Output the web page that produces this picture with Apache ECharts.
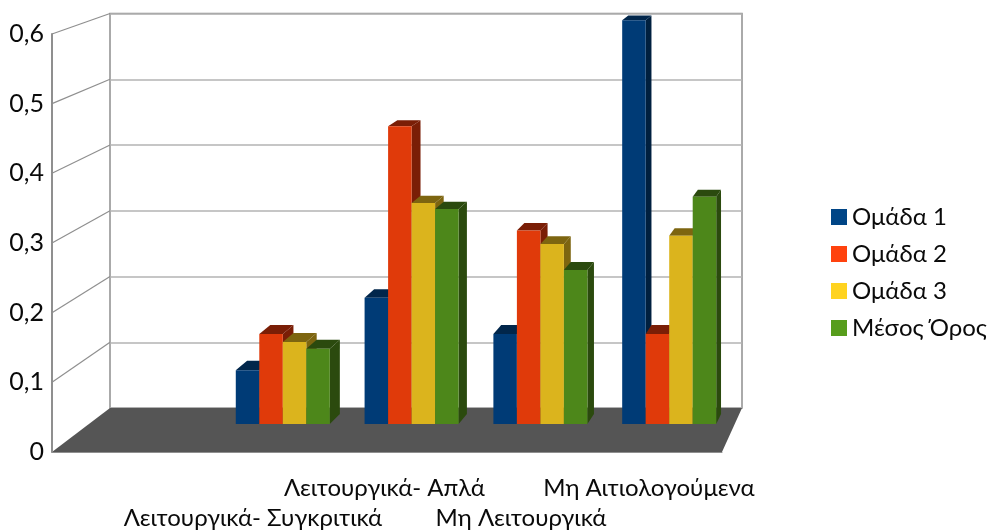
<!DOCTYPE html>
<html>
<head>
<meta charset="utf-8">
<style>
    html, body { margin: 0; padding: 0; background: #fff; }
    #main { width: 992px; height: 530px; }
</style>
<script src="https://cdn.jsdelivr.net/npm/echarts@6/dist/echarts.min.js"></script>
</head>
<body>
<div id="main"></div>
<script>
// first category is empty in the original chart
const categories = ['', 'Λειτουργικά- Συγκριτικά', 'Λειτουργικά- Απλά', 'Μη Λειτουργικά', 'Μη Αιτιολογούμενα']
const seriesNames = ['Ομάδα 1', 'Ομάδα 2', 'Ομάδα 3', 'Μέσος Όρος']
const group1 = [null, 0.08, 0.188, 0.134, 0.601]
const group2 = [null, 0.134, 0.443, 0.288, 0.134]
const group3 = [null, 0.122, 0.329, 0.268, 0.28]
const average = [null, 0.112, 0.32, 0.229, 0.338]
const tickValues = [0, 0.1, 0.2, 0.3, 0.4, 0.5, 0.6]
const tickLabels = ['0', '0,1', '0,2', '0,3', '0,4', '0,5', '0,6']

const legendColors = ['#004586', '#ff420e', '#ffd320', '#579d1c']
const frontColors = ['#003b76', '#e03a0a', '#dbb41d', '#4d871a']
const topColors = ['#01264b', '#7a1e06', '#7d6510', '#2b4a0e']
const sideColors = ['#00203f', '#7a1e06', '#7d6510', '#2b4a0e']
const fontFamily = 'Lato, "Open Sans", "Noto Sans", sans-serif'
const textColor = '#0a0a0a'
const wallColor = '#8f8f8f'

// the three planes of the fake 3D box
const front = { left: 52, right: 722, top: 34, bottom: 452 }
const back = { left: 110, right: 742, top: 13.5, bottom: 408 }
const bars = { left: 89.6, right: 733.6, top: 20.8, bottom: 424 }
const vanish = [1073, -325] // all depth lines meet here
const depth = 0.0135

function toBack(p) {
    return [p[0] + depth * (vanish[0] - p[0]), p[1] + depth * (vanish[1] - p[1])]
}

function frontY(v) {
    return front.bottom - (v / 0.6) * (front.bottom - front.top)
}

function gridOf(r) {
    // outerBoundsMode none: v6 would otherwise shrink the grid to fit the labels
    return { left: r.left, top: r.top, width: r.right - r.left, height: r.bottom - r.top, outerBoundsMode: 'none' }
}

function barSeries(index, values) {
    return {
        name: seriesNames[index],
        type: 'custom',
        coordinateSystem: 'cartesian2d',
        xAxisIndex: 2,
        yAxisIndex: 2,
        z: 3 + index,
        clip: false,
        itemStyle: { color: legendColors[index] },
        data: values.map((v, i) => [i, v]),
        renderItem: function (params, api) {
            if (api.value(1) == null || isNaN(api.value(1))) return
            let top = api.coord([api.value(0), api.value(1)])
            let base = api.coord([api.value(0), 0])
            let w = api.size([1, 0])[0] * 0.1825
            let x0 = top[0] + (index - 2) * w
            let x1 = x0 + w
            let tl = [x0, top[1]]; let tr = [x1, top[1]]; let br = [x1, base[1]]
            return {
                type: 'group',
                children: [
                    { type: 'polygon', shape: { points: [tr, br, toBack(br), toBack(tr)] }, style: { fill: sideColors[index] } },
                    { type: 'polygon', shape: { points: [tl, tr, toBack(tr), toBack(tl)] }, style: { fill: topColors[index] } },
                    { type: 'rect', shape: { x: x0, y: top[1], width: w, height: base[1] - top[1] }, style: { fill: frontColors[index] } }
                ]
            }
        }
    }
}

let series = [
    {
        // left wall: depth lines
        type: 'custom',
        coordinateSystem: 'cartesian2d',
        xAxisIndex: 1,
        yAxisIndex: 1,
        silent: true,
        z: 1,
        clip: false,
        data: tickValues.slice(1).map(v => [0, v]),
        renderItem: function (params, api) {
            let v = api.value(1)
            let p = api.coord([0, v])
            return {
                type: 'line',
                shape: { x1: front.left, y1: frontY(v), x2: p[0], y2: p[1] },
                style: { stroke: wallColor, lineWidth: 1.2 }
            }
        }
    },
    {
        // floor
        type: 'custom',
        coordinateSystem: 'cartesian2d',
        xAxisIndex: 1,
        yAxisIndex: 1,
        silent: true,
        z: 2,
        clip: false,
        data: [[0, 0]],
        renderItem: function (params, api) {
            let l = api.coord([0, 0]); let r = api.coord([1, 0])
            return {
                type: 'polygon',
                shape: { points: [[front.left, front.bottom], l, r, [front.right, front.bottom]] },
                style: { fill: '#555555' }
            }
        }
    },
    barSeries(0, group1),
    barSeries(1, group2),
    barSeries(2, group3),
    barSeries(3, average)
]

const labelFont = { fontSize: 24, lineHeight: 30, fontFamily: fontFamily, color: textColor }

let option = {
    backgroundColor: '#fff',
    animation: false,
    grid: [
        gridOf(front),
        Object.assign({ show: true, borderColor: wallColor, borderWidth: 1.5, backgroundColor: 'transparent' }, gridOf(back)),
        gridOf(bars)
    ],
    legend: {
        orient: 'vertical',
        left: 831,
        top: 205,
        padding: 0,
        icon: 'rect',
        itemWidth: 16,
        itemHeight: 16,
        itemGap: 13,
        textStyle: { color: textColor, fontSize: 24, fontFamily: fontFamily },
        data: seriesNames
    },
    xAxis: [
        {
            gridIndex: 0,
            type: 'category',
            z: 5,
            data: categories,
            axisLine: { show: true, lineStyle: { color: wallColor, width: 1 } },
            axisTick: { show: false },
            axisLabel: {
                interval: 0,
                margin: 21,
                color: textColor,
                fontSize: 24,
                lineHeight: 30,
                fontFamily: fontFamily,
                rich: {
                    plain: labelFont,
                    left5: Object.assign({ padding: [0, 5, 0, 0] }, labelFont),
                    left12: Object.assign({ padding: [0, 12, 0, 0] }, labelFont)
                },
                formatter: function (value, i) {
                    if (!value) return ''
                    let style = i === 2 ? 'left5' : i === 4 ? 'left12' : 'plain'
                    let text = '{' + style + '|' + value + '}'
                    return i % 2 === 0 ? text : '\n' + text
                }
            }
        },
        { gridIndex: 1, type: 'value', min: 0, max: 1, show: false },
        { gridIndex: 2, type: 'category', data: categories, show: false }
    ],
    yAxis: [
        {
            gridIndex: 0,
            type: 'value',
            min: 0,
            max: 0.6,
            interval: 0.1,
            z: 5,
            axisLine: { show: true, onZero: false, lineStyle: { color: wallColor, width: 2 } },
            axisTick: { show: false },
            splitLine: { show: false },
            axisLabel: {
                margin: 8,
                padding: [6, 0, 0, 0],
                color: textColor,
                fontSize: 25,
                fontFamily: fontFamily,
                formatter: function (value, i) { return tickLabels[i] }
            }
        },
        {
            gridIndex: 1,
            type: 'value',
            min: 0,
            max: 0.6,
            interval: 0.1,
            axisLine: { show: false },
            axisTick: { show: false },
            axisLabel: { show: false },
            splitLine: { show: true, lineStyle: { color: '#b3b3b3', width: 1.5 } }
        },
        { gridIndex: 2, type: 'value', min: 0, max: 0.6, show: false }
    ],
    series: series
}

var myChart = echarts.init(document.getElementById('main'), null, { renderer: 'canvas' })
myChart.setOption(option)
</script>
</body>
</html>
